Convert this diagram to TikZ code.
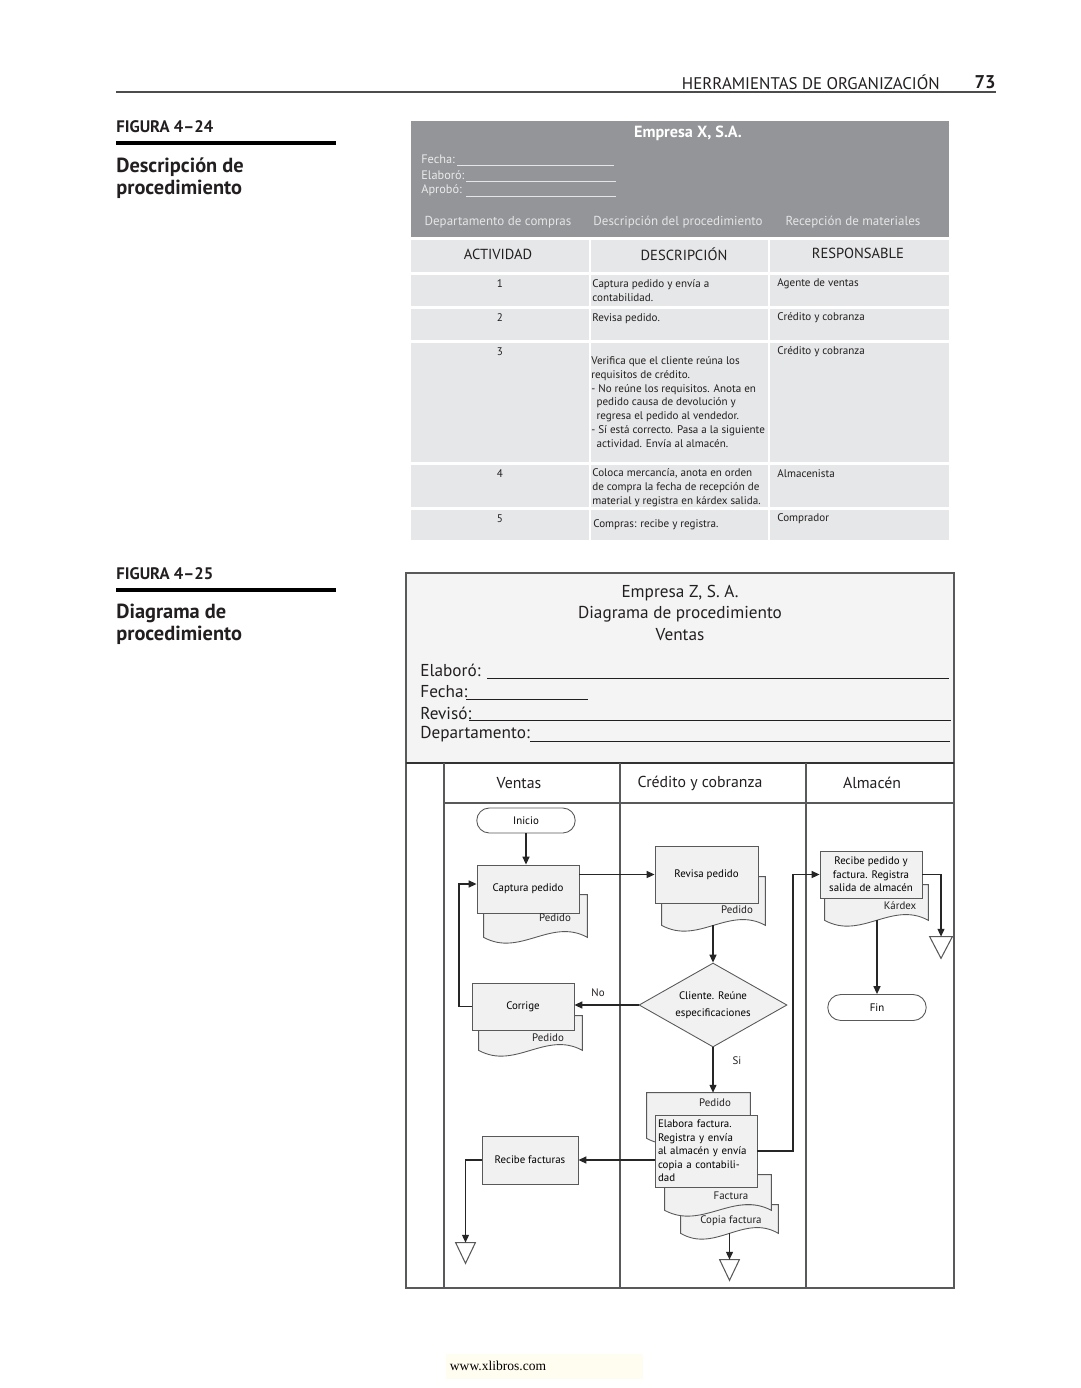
\documentclass[tikz,border=0pt]{standalone}
\usepackage{fontspec}
\setmainfont{PT Sans}
\newfontfamily\footfont{Liberation Serif}
\usepackage{xcolor}
\usetikzlibrary{shapes.geometric, shapes.misc, arrows.meta, positioning, calc}

\definecolor{inkgray}{HTML}{231F20}
\definecolor{headgray}{HTML}{939598}
\definecolor{cellgray}{HTML}{E6E7E8}
\definecolor{boxfill}{HTML}{F1F1F2}
\definecolor{formfill}{HTML}{F4F4F4}
\definecolor{edgegray}{HTML}{58595B}
\definecolor{webfill}{HTML}{FFFCF0}

\newcommand{\setfs}[2]{\fontsize{#1}{#2}\selectfont}

\begin{document}
\begin{tikzpicture}[
    x=0.02cm, y=-0.02cm,
    runhead/.style={font=\setfs{9.6}{11}, text=inkgray, inner sep=0pt},
    figlabel/.style={font=\bfseries\setfs{9.5}{11}, text=inkgray, anchor=west, inner sep=0pt},
    figtitle/.style={font=\bfseries\setfs{11.6}{12.6}, text=inkgray, anchor=north west, align=left, inner sep=0pt},
    figrule/.style={line width=2.2pt, draw=black},
    grayfield/.style={font=\setfs{7}{8}, text=white!92!black, anchor=west, inner sep=0pt},
    grayhead/.style={font=\setfs{7.4}{8}, text=white!90!black, inner sep=0pt},
    cellhead/.style={font=\setfs{8.3}{10}, text=inkgray, inner sep=0pt},
    celltext/.style={font=\setfs{6.3}{7.9}, text=inkgray, anchor=north west, align=left, inner sep=0pt},
    formtext/.style={font=\setfs{9.8}{12}, text=inkgray, inner sep=0pt},
    formline/.style={draw=inkgray, line width=0.5pt},
    lanehead/.style={font=\setfs{9}{11}, text=inkgray, inner sep=0pt},
    procbox/.style={rectangle, draw=edgegray, fill=boxfill, line width=0.5pt, font=\setfs{6.2}{7.7}, inner sep=1pt},
    termbox/.style={rounded rectangle, draw=edgegray, fill=white, line width=0.5pt, font=\setfs{6.2}{7.7}, inner sep=1pt},
    decision/.style={diamond, draw=edgegray, fill=boxfill, line width=0.5pt, aspect=1.76, inner sep=0pt, font=\setfs{6.2}{9.6}, align=center},
    docnode/.style={rectangle, draw=none, inner sep=0pt},
    docline/.style={draw=edgegray, fill=boxfill, line width=0.5pt},
    doclabel/.style={font=\setfs{6.2}{7.7}, text=inkgray, inner sep=0pt},
    filenode/.style={rectangle, draw=none, inner sep=0pt},
    flow/.style={-{Triangle[length=4.5pt, width=4pt]}, draw=black!85, line width=0.7pt},
    flowlabel/.style={font=\setfs{6.2}{7.7}, text=inkgray, inner sep=0pt}
]

\fill[white] (0,0) rectangle (1080,1388);
\useasboundingbox (0,0) rectangle (1080,1388);

% running head
\node[runhead, anchor=east] (runtitle) at (940,82) {HERRAMIENTAS DE ORGANIZACIÓN};
\node[runhead, font=\bfseries\setfs{10.5}{12}, anchor=east] (pagenum) at (996,82) {73};
\draw[black!70, line width=0.6pt] (116,92) -- (996,92);

% captions
\node[figlabel] (fig24) at (116,127) {FIGURA 4–24};
\draw[figrule] (116,143) -- (336,143);
\node[figtitle] (fig24title) at (116,157) {Descripción de\\procedimiento};

\node[figlabel] (fig25) at (116,574) {FIGURA 4–25};
\draw[figrule] (116,590) -- (336,590);
\node[figtitle] (fig25title) at (116,604) {Diagrama de\\procedimiento};

% figura 4-24
\fill[headgray] (411,121) rectangle (949,237);
\foreach \ya/\yb in {240/272, 275/306, 309/340, 343/462, 465/507, 510/540}
  \foreach \xa/\xb in {411/589, 591/768, 770/949}
    \fill[cellgray] (\xa,\ya) rectangle (\xb,\yb);

\node[font=\bfseries\setfs{9.2}{10}, text=white, inner sep=0pt] (empx) at (688,133) {Empresa X, S.A.};
\node[grayfield] (tfecha) at (421,159) {Fecha:};
\node[grayfield] (telab) at (421,175) {Elaboró:};
\node[grayfield] (taprob) at (421,190) {Aprobó:};
\draw[white!90!black, line width=0.4pt] (457,165) -- (614,165);
\draw[white!90!black, line width=0.4pt] (466,181) -- (616,181);
\draw[white!90!black, line width=0.4pt] (466,196) -- (616,196);
\node[grayhead] (tdep) at (498,222) {Departamento de compras};
\node[grayhead] (tdesc) at (678,222) {Descripción del procedimiento};
\node[grayhead] (trec) at (853,222) {Recepción de materiales};

\node[cellhead] (hact) at (498,254) {ACTIVIDAD};
\node[cellhead] (hdesc) at (684,254) {DESCRIPCIÓN};
\node[cellhead] (hresp) at (858,253) {RESPONSABLE};

\foreach \n/\y in {1/284, 2/318, 3/352, 4/474, 5/519}
  \node[celltext, anchor=center] (num\n) at (500,\y) {\n};

\node[celltext] (desc1) at (592,279) {Captura pedido y envía a\\contabilidad.};
\node[celltext] (desc2) at (592,313) {Revisa pedido.};
\node[celltext] (desc3) at (591,356) {Verifica que el cliente reúna los\\requisitos de crédito.\\- No reúne los requisitos. Anota en\\\hspace*{3pt}pedido causa de devolución y\\\hspace*{3pt}regresa el pedido al vendedor.\\- Sí está correcto. Pasa a la siguiente\\\hspace*{3pt}actividad. Envía al almacén.};
\node[celltext] (desc4) at (592,468) {Coloca mercancía, anota en orden\\de compra la fecha de recepción de\\material y registra en kárdex salida.};
\node[celltext] (desc5) at (593,519) {Compras: recibe y registra.};

\node[celltext, anchor=west] (resp1) at (777,284) {Agente de ventas};
\node[celltext, anchor=west] (resp2) at (777,318) {Crédito y cobranza};
\node[celltext, anchor=west] (resp3) at (777,352) {Crédito y cobranza};
\node[celltext, anchor=west] (resp4) at (777,474) {Almacenista};
\node[celltext, anchor=west] (resp5) at (777,519) {Comprador};

% figura 4-25: form
\filldraw[fill=formfill, draw=edgegray, line width=0.6pt] (406,573) rectangle (954,763);
\draw[edgegray, line width=0.6pt] (406,763) rectangle (954,1288);
\draw[black!80, line width=1.2pt] (406,763) -- (954,763);
\draw[edgegray, line width=0.6pt] (444,803) -- (954,803);
\foreach \x in {444,620,806}
  \draw[edgegray, line width=0.6pt] (\x,763) -- (\x,1288);

\node[formtext] (empz) at (680,593) {Empresa Z, S. A.};
\node[formtext] (diagp) at (680,614) {Diagrama de procedimiento};
\node[formtext] (ventas) at (680,635) {Ventas};

\node[formtext, anchor=west] (felab) at (420,670) {Elaboró:};
\node[formtext, anchor=west] (ffecha) at (420,692) {Fecha:};
\node[formtext, anchor=west] (frev) at (420,713) {Revisó:};
\node[formtext, anchor=west] (fdep) at (420,734) {Departamento:};
\draw[formline] (487,678) -- (949,678);
\draw[formline] (466,699) -- (588,699);
\draw[formline] (469,720) -- (951,720);
\draw[formline] (530,741) -- (950,741);

\node[lanehead] (laneven) at (519,783) {Ventas};
\node[lanehead] (lanecred) at (700,783) {Crédito y cobranza};
\node[lanehead] (lanealm) at (872,783) {Almacén};

% documentos
\node[docnode, minimum width=2.06cm, minimum height=0.84cm] (capdoc) at (535.5,916) {};
\node[docnode, minimum width=2.06cm, minimum height=0.96cm] (revdoc) at (713.5,901) {};
\node[docnode, minimum width=2.06cm, minimum height=0.68cm] (cordoc) at (530.5,1033) {};
\node[docnode, minimum width=2.06cm, minimum height=0.70cm] (kardoc) at (876.5,902.5) {};
\node[docnode, minimum width=1.94cm, minimum height=0.56cm] (copdoc) at (729.5,1219) {};
\node[docnode, minimum width=2.12cm, minimum height=0.70cm] (facdoc) at (718,1192.5) {};
\node[docnode, minimum width=2.06cm, minimum height=0.90cm] (peddoc) at (698.5,1115.5) {};
\foreach \d in {capdoc,revdoc,cordoc,kardoc,copdoc,facdoc,peddoc}
  \filldraw[docline] (\d.south west) -- (\d.north west) -- (\d.north east) -- (\d.south east)
    .. controls ($(\d.south east)!0.35!(\d.south west)+(0,-20)$) and ($(\d.south east)!0.65!(\d.south west)+(0,20)$) .. (\d.south west) -- cycle;

% pasos
\node[termbox, minimum width=2.04cm, minimum height=0.5cm] (inicio) at (526,820.5) {Inicio};
\node[procbox, minimum width=2.04cm, minimum height=0.96cm] (captura) at (528,889) {Captura pedido};
\node[procbox, minimum width=2.06cm, minimum height=1.14cm] (revisa) at (706.5,874.5) {Revisa pedido};
\node[decision, minimum width=2.96cm, minimum height=1.68cm] (cliente) at (713,1005) {Cliente. Reúne\\especificaciones};
\node[procbox, minimum width=2.04cm, minimum height=0.94cm] (corrige) at (523,1006.5) {Corrige};
\node[procbox, minimum width=2.04cm, minimum height=1.44cm, text width=1.92cm, align=left] (elabora) at (706,1151) {Elabora factura.\\Registra y envía\\al almacén y envía\\copia a contabili-\\dad};
\node[procbox, minimum width=1.92cm, minimum height=0.96cm] (recfac) at (530,1160) {Recibe facturas};
\node[procbox, minimum width=2.04cm, minimum height=0.94cm, align=center] (recped) at (871,874.5) {Recibe pedido y\\factura. Registra\\salida de almacén};
\node[termbox, minimum width=2.04cm, minimum height=0.52cm] (fin) at (877,1007.5) {Fin};

% archivo
\node[filenode, minimum width=0.38cm, minimum height=0.4cm] (arch1) at (465.5,1253) {};
\node[filenode, minimum width=0.38cm, minimum height=0.4cm] (arch2) at (729.5,1270) {};
\node[filenode, minimum width=0.44cm, minimum height=0.42cm] (arch3) at (941,947.5) {};
\foreach \t in {arch1,arch2,arch3}
  \filldraw[fill=white, draw=edgegray, line width=0.6pt] (\t.north west) -- (\t.north east) -- (\t.south) -- cycle;

\node[doclabel] (capdoclbl) at (555,918) {Pedido};
\node[doclabel] (revdoclbl) at (737,910) {Pedido};
\node[doclabel] (cordoclbl) at (548,1038) {Pedido};
\node[doclabel] (peddoclbl) at (715,1103) {Pedido};
\node[doclabel] (facdoclbl) at (731,1196) {Factura};
\node[doclabel] (copdoclbl) at (731,1221) {Copia factura};
\node[doclabel] (kardoclbl) at (900,906) {Kárdex};

% conectores
\coordinate (loopx) at (459,884);
\coordinate (upx) at (793,874.5);
\draw[flow] (inicio.south) -- (inicio.south |- captura.north);
\draw[flow] (captura.east |- revisa.west) -- (revisa.west);
\draw[flow] (revdoc.south -| cliente.north) -- (cliente.north);
\draw[flow] (cliente.west) -- (cliente.west -| corrige.east);
\draw[flow] (corrige.west) -| (loopx) -- (loopx -| captura.west);
\draw[flow] (cliente.south) -- (cliente.south |- peddoc.north);
\draw[flow] (elabora.east) -| (upx) -- (recped.west);
\draw[flow] (elabora.west |- recfac.east) -- (recfac.east);
\draw[flow] (recfac.west) -| (arch1.north);
\draw[flow] (copdoc.south -| arch2.north) -- (arch2.north);
\draw[flow] (recped.east) -| (arch3.north);
\draw[flow] (kardoc.south -| fin.north) -- (fin.north);

\node[flowlabel] (nolbl) at (598,993) {No};
\node[flowlabel] (silbl) at (737,1061) {Si};

% pie
\fill[webfill] (446,1354) rectangle (643,1379);
\node[font=\footfont\setfs{7.7}{9}, text=black, inner sep=0pt] (web) at (498,1366) {www.xlibros.com};

\end{tikzpicture}
\end{document}
